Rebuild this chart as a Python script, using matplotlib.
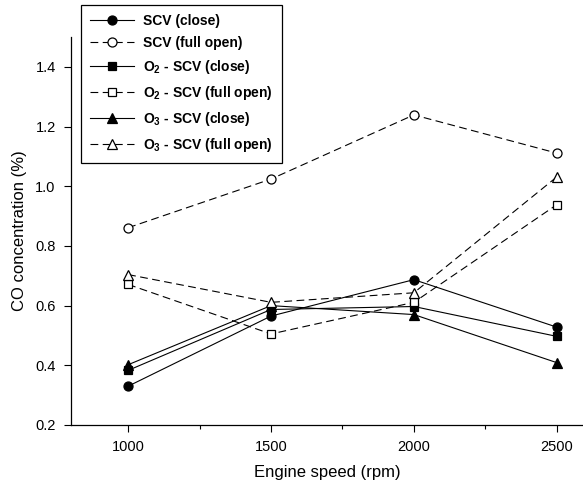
import matplotlib
matplotlib.use("Agg")
import matplotlib.pyplot as plt
from matplotlib.ticker import FixedLocator

plt.rcParams['font.family'] = ['Liberation Sans', 'DejaVu Sans']
plt.rcParams['mathtext.fontset'] = 'custom'
plt.rcParams['mathtext.rm'] = 'Liberation Sans'
plt.rcParams['mathtext.bf'] = 'Liberation Sans:bold'

speeds = [1000, 1500, 2000, 2500]
scv_close = [0.33, 0.565, 0.687, 0.528]
scv_open = [0.861, 1.024, 1.239, 1.111]
o2_close = [0.383, 0.587, 0.597, 0.497]
o2_open = [0.671, 0.505, 0.611, 0.938]
o3_close = [0.402, 0.600, 0.570, 0.409]
o3_open = [0.704, 0.611, 0.643, 1.031]

labels = [r'SCV (close)', r'SCV (full open)',
          r'O$_\mathbf{2}$ - SCV (close)', r'O$_\mathbf{2}$ - SCV (full open)',
          r'O$_\mathbf{3}$ - SCV (close)', r'O$_\mathbf{3}$ - SCV (full open)']

fig = plt.figure(figsize=(5.83, 4.93), dpi=100)
ax = fig.add_axes([71/583, 1-425/493, 1-71/583, (425-37)/493])

ms = 6.5
lw = 0.8
dash = (0, (7, 4))
series = [
    (scv_close, 'o', 'black', '-'),
    (scv_open, 'o', 'white', dash),
    (o2_close, 's', 'black', '-'),
    (o2_open, 's', 'white', dash),
    (o3_close, '^', 'black', '-'),
    (o3_open, '^', 'white', dash),
]
for (vals, m, fc, ls), lab in zip(series, labels):
    ax.plot(speeds, vals, linestyle=ls, color='black', linewidth=lw,
            marker=m, markersize=ms if m != 's' else ms - 0.5,
            markerfacecolor=fc, markeredgecolor='black', markeredgewidth=0.9,
            label=lab)

ax.set_xlim(800, 2592)
ax.set_ylim(0.2, 1.5)
ax.set_xticks(speeds)
ax.xaxis.set_minor_locator(FixedLocator([1250, 1750, 2250]))
ax.set_yticks([0.2, 0.4, 0.6, 0.8, 1.0, 1.2, 1.4])
ax.set_yticklabels(['0.2', '0.4', '0.6', '0.8', '1.0', '1.2', '1.4'])
ax.spines['top'].set_visible(False)
ax.spines['right'].set_visible(False)
for s in ['left', 'bottom']:
    ax.spines[s].set_linewidth(0.9)
ax.tick_params(axis='both', which='major', direction='out', length=5, width=0.8,
               labelsize=10.5, pad=6)
ax.tick_params(axis='x', which='minor', direction='out', length=3, width=0.8)
ax.tick_params(axis='x', which='major', pad=6)

ax.set_xlabel('Engine speed (rpm)', fontsize=12, labelpad=8)
ax.set_ylabel('CO concentration (%)', fontsize=12, labelpad=6)

leg = fig.legend(loc='upper left', bbox_to_anchor=(81/583, 1-5/493),
                 bbox_transform=fig.transFigure, frameon=True, fancybox=False,
                 edgecolor='black', handlelength=3.2, handletextpad=0.6,
                 labelspacing=0.58, borderpad=0.65, borderaxespad=0,
                 prop={'weight': 'bold', 'size': 10})
leg.get_frame().set_linewidth(0.9)
leg.get_frame().set_alpha(1)

fig.savefig('out.png', dpi=100)
